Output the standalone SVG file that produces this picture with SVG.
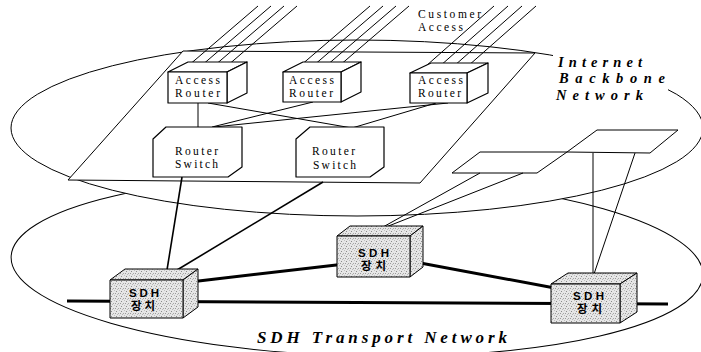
<svg xmlns="http://www.w3.org/2000/svg" width="701" height="352" viewBox="0 0 701 352">
<style>
.ln{stroke:#000;stroke-width:1;fill:none}
.wf{stroke:#000;stroke-width:1;fill:#fff}
.bx{stroke:#000;stroke-width:1.2;fill:#fff;stroke-linejoin:round}
.sd{stroke:#000;stroke-width:1;fill:url(#dots);stroke-linejoin:round}
.thick{stroke:#000;stroke-width:3;fill:none}
.med{stroke:#000;stroke-width:1.6;fill:none}
.lbl{font-family:"Liberation Serif",serif;font-size:11.5px;fill:#000}
.big{font-family:"Liberation Serif",serif;font-weight:bold;font-style:italic;font-size:14.5px;fill:#000}
.big2{font-family:"Liberation Serif",serif;font-weight:bold;font-style:italic;font-size:17px;fill:#000}
.sdh{font-family:"Liberation Sans","Noto Sans CJK KR",sans-serif;font-weight:bold;font-size:11.5px;fill:#000}
</style>
<defs>
<pattern id="dots" width="5" height="5" patternUnits="userSpaceOnUse">
<rect width="5" height="5" fill="#e6e6e6"/>
<rect x="1" y="1" width="1" height="1" fill="#8c8c8c"/>
<rect x="3" y="3" width="1" height="1" fill="#a8a8a8"/>
<rect x="4" y="0" width="1" height="1" fill="#c0c0c0"/>
<rect x="0" y="3" width="1" height="1" fill="#9a9a9a"/>
<rect x="2" y="4" width="1" height="1" fill="#b8b8b8"/>
</pattern>
</defs>

<g id="sdh-transport-network">
<ellipse class="wf" cx="357" cy="266" rx="346" ry="90" transform="rotate(1.5 357 266)"/>
</g>
<g id="internet-backbone-network">
<ellipse class="wf" cx="357" cy="128" rx="346" ry="88"/>
</g>
<g id="router-plane">
<polygon class="wf" points="183,51 535,53 420,183 68,180"/>
</g>
<g id="sdh-planes">
<polygon class="wf" points="480,152 567,152 537,173 452,173"/>
<polygon class="wf" points="597,130 678,130 650,153 567,152"/>
</g>

<g id="connectors">
<g class="ln">
<line x1="188" y1="66" x2="258" y2="6"/><line x1="201" y1="66" x2="271" y2="6"/><line x1="214" y1="66" x2="284" y2="6"/><line x1="227" y1="66" x2="297" y2="6"/>
<line x1="300" y1="66" x2="370" y2="6"/><line x1="313" y1="66" x2="383" y2="6"/><line x1="326" y1="66" x2="396" y2="6"/><line x1="339" y1="66" x2="409" y2="6"/>
<line x1="426" y1="66" x2="494" y2="6"/><line x1="440" y1="66" x2="508" y2="6"/><line x1="454" y1="66" x2="522" y2="6"/><line x1="468" y1="66" x2="536" y2="6"/>
<line x1="198" y1="103" x2="198" y2="127"/>
<line x1="208" y1="103" x2="352" y2="128"/>
<line x1="313" y1="102" x2="212" y2="127"/>
<line x1="448" y1="103" x2="214" y2="127"/>
<line x1="436" y1="103" x2="352" y2="128"/>
<line x1="480" y1="173" x2="383" y2="227"/>
<line x1="523" y1="173" x2="386" y2="227"/>
<line x1="593" y1="153" x2="593" y2="274"/>
<line x1="635" y1="153" x2="594" y2="274"/>
</g>
<line class="med" x1="182" y1="177" x2="167" y2="270"/>
<line class="med" x1="323" y1="182" x2="177" y2="270"/>
<line class="thick" x1="67" y1="301" x2="668" y2="304"/>
<line class="thick" x1="190" y1="282" x2="345" y2="264"/>
<line class="thick" x1="415" y1="262" x2="560" y2="289"/>
</g>

<g id="access-router-1">
<polygon class="bx" points="168,72 188,62 247,62 227,72"/>
<polygon class="bx" points="227,72 247,62 247,93 227,103"/>
<rect class="bx" x="168" y="72" width="59" height="31"/>
<text class="lbl" x="175" y="84" textLength="45" lengthAdjust="spacing">Access</text>
<text class="lbl" x="175" y="97" textLength="45" lengthAdjust="spacing">Router</text>
</g>
<g id="access-router-2">
<polygon class="bx" points="283,72 303,62 361,62 341,72"/>
<polygon class="bx" points="341,72 361,62 361,92 341,102"/>
<rect class="bx" x="283" y="72" width="58" height="30"/>
<text class="lbl" x="289" y="84" textLength="45" lengthAdjust="spacing">Access</text>
<text class="lbl" x="289" y="97" textLength="44" lengthAdjust="spacing">Router</text>
</g>
<g id="access-router-3">
<polygon class="bx" points="410,73 431,63 488,63 467,73"/>
<polygon class="bx" points="467,73 488,63 488,93 467,103"/>
<rect class="bx" x="410" y="73" width="57" height="30"/>
<text class="lbl" x="418" y="84" textLength="45" lengthAdjust="spacing">Access</text>
<text class="lbl" x="418" y="97" textLength="43" lengthAdjust="spacing">Router</text>
</g>

<g id="router-switch-1">
<polygon class="bx" points="166,127 242,127 242,167 228,177 153,177 153,139"/>
<text class="lbl" x="175" y="155" textLength="43" lengthAdjust="spacing">Router</text>
<text class="lbl" x="175" y="168" textLength="43" lengthAdjust="spacing">Switch</text>
</g>
<g id="router-switch-2">
<polygon class="bx" points="310,127 384,127 384,167 370,177 296,177 296,139"/>
<text class="lbl" x="312" y="155" textLength="43" lengthAdjust="spacing">Router</text>
<text class="lbl" x="313" y="169" textLength="43" lengthAdjust="spacing">Switch</text>
</g>

<g id="sdh-1">
<polygon class="sd" points="110,280 125,269 198,269 183,280"/>
<polygon class="sd" points="183,280 198,269 198,307 183,318"/>
<rect class="sd" x="110" y="280" width="73" height="38"/>
<text class="sdh" x="129" y="297" textLength="30" lengthAdjust="spacing">SDH</text>
<text class="sdh" x="131" y="310" textLength="24" lengthAdjust="spacing">장치</text>
</g>
<g id="sdh-2">
<polygon class="sd" points="337,236 350,226 423,226 410,236"/>
<polygon class="sd" points="410,236 423,226 423,267 410,277"/>
<rect class="sd" x="337" y="236" width="73" height="41"/>
<text class="sdh" x="358" y="257" textLength="31" lengthAdjust="spacing">SDH</text>
<text class="sdh" x="361" y="270" textLength="25" lengthAdjust="spacing">장치</text>
</g>
<g id="sdh-3">
<polygon class="sd" points="551,284 568,273 637,273 620,284"/>
<polygon class="sd" points="620,284 637,273 637,312 620,323"/>
<rect class="sd" x="551" y="284" width="69" height="39"/>
<text class="sdh" x="573" y="300" textLength="31" lengthAdjust="spacing">SDH</text>
<text class="sdh" x="577" y="313" textLength="25" lengthAdjust="spacing">장치</text>
</g>

<g id="labels">
<text class="lbl" x="418" y="18" textLength="63" lengthAdjust="spacing">Customer</text>
<text class="lbl" x="418" y="31" textLength="45" lengthAdjust="spacing">Access</text>
<rect x="553" y="54" width="115" height="49" fill="#fff"/>
<text class="big" x="558" y="67" textLength="84" lengthAdjust="spacing">Internet</text>
<text class="big" x="559" y="83" textLength="106" lengthAdjust="spacing">Backbone</text>
<text class="big" x="556" y="100" textLength="87" lengthAdjust="spacing">Network</text>
<text class="big2" x="257" y="343" textLength="250" lengthAdjust="spacing">SDH Transport Network</text>
</g>
</svg>
